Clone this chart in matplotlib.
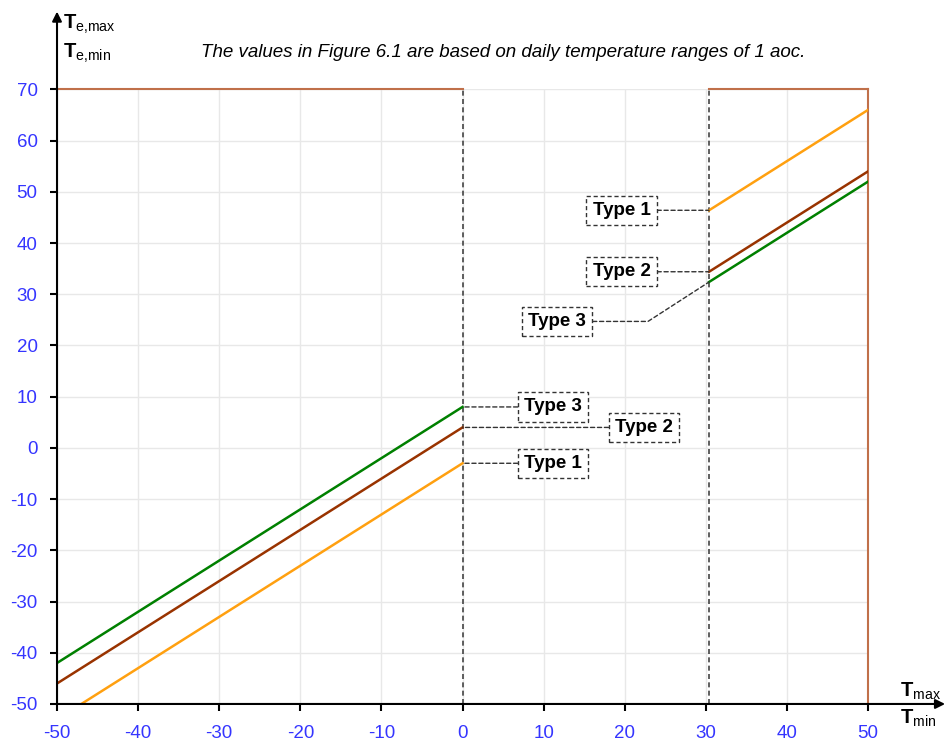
import numpy as np
import matplotlib.pyplot as plt

plt.rcParams['font.family'] = ['Liberation Sans', 'DejaVu Sans']
plt.rcParams['axes.unicode_minus'] = False
plt.rcParams['mathtext.fontset'] = 'custom'
plt.rcParams['mathtext.rm'] = 'Liberation Sans'
plt.rcParams['mathtext.bf'] = 'Liberation Sans:bold'

# left part: T_min side, right part: T_max side
x_left = [-50, 0]
type1_left = [-53, -3]
type2_left = [-46, 4]
type3_left = [-42, 8]

x_right = [30.4, 50]
type1_right = [46.4, 66]
type2_right = [34.4, 54]
type3_right = [32.4, 52]

xticks = np.arange(-50, 51, 10)
yticks = np.arange(-50, 71, 10)

c1 = '#ffa010'
c2 = '#993300'
c3 = '#008000'
cbox = '#c0704a'
blue = '#3535ff'

fig = plt.figure(figsize=(9.47, 7.44), dpi=100, facecolor='w')
ax = fig.add_axes([0.0602, 0.0538, 0.8564, 0.826])
ax.set_xlim(-50, 50)
ax.set_ylim(-50, 70)

for s in ax.spines.values():
    s.set_visible(False)

ax.set_xticks(xticks)
ax.set_yticks(yticks)
ax.tick_params(colors='k', labelcolor=blue, labelsize=13.5, length=5, width=1.5)
ax.tick_params(axis='x', pad=10)
ax.tick_params(axis='y', pad=9)
ax.grid(color='#e8e8e8', lw=1)
ax.set_axisbelow(True)

# frames
ax.plot([-50, 0], [70, 70], c=cbox, lw=1.5, clip_on=False)
ax.plot([x_right[0], 50], [70, 70], c=cbox, lw=1.5, clip_on=False)
ax.plot([50, 50], [-50, 70], c=cbox, lw=1.5, clip_on=False)
ax.plot([0, 0], [-50, 70], c='#444444', lw=1.2, ls=(0, (3, 2)))
ax.plot([x_right[0]] * 2, [-50, 70], c='#444444', lw=1.2, ls=(0, (3, 2)))

ax.plot(x_left, type1_left, c=c1, lw=1.8)
ax.plot(x_left, type2_left, c=c2, lw=1.8)
ax.plot(x_left, type3_left, c=c3, lw=1.8)
ax.plot(x_right, type1_right, c=c1, lw=1.8)
ax.plot(x_right, type2_right, c=c2, lw=1.8)
ax.plot(x_right, type3_right, c=c3, lw=1.8)

box = dict(boxstyle='square,pad=0.33', fc='w', ec='#333333', ls=(0, (3, 2)), lw=1)
arr = dict(arrowstyle='-', ls=(0, (3, 2)), color='#333333', lw=1, shrinkA=0, shrinkB=0)


def callout(txt, pt, pos, conn=None):
    a = dict(arr)
    if conn:
        a['connectionstyle'] = conn
    ax.annotate(txt, xy=pt, xytext=pos, ha='center', va='center',
                fontsize=13.5, fontweight='bold', bbox=box, arrowprops=a)


callout('Type 3', (0, type3_left[1]), (11.2, type3_left[1]))
callout('Type 2', (0, type2_left[1]), (22.4, type2_left[1]))
callout('Type 1', (0, type1_left[1]), (11.2, type1_left[1]))
callout('Type 1', (x_right[0], type1_right[0]), (19.6, type1_right[0]))
callout('Type 2', (x_right[0], type2_right[0]), (19.6, type2_right[0]))
callout('Type 3', (x_right[0], type3_right[0]), (11.65, 24.7),
        'arc,angleA=0,armA=91,angleB=0,armB=0,rad=0')

# axis arrows
ax.annotate('', xy=(-50, 85.2), xytext=(-50, -50),
            arrowprops=dict(arrowstyle='-|>', color='k', lw=1.5, mutation_scale=14,
                            shrinkA=0, shrinkB=0), annotation_clip=False)
ax.annotate('', xy=(59.5, -50), xytext=(-50, -50),
            arrowprops=dict(arrowstyle='-|>', color='k', lw=1.5, mutation_scale=14,
                            shrinkA=0, shrinkB=0), annotation_clip=False)

fig.text(0.066, 0.967, r'$\mathbf{T}_{\mathrm{e{,}max}}$', fontsize=14.5, va='center')
fig.text(0.066, 0.928, r'$\mathbf{T}_{\mathrm{e{,}min}}$', fontsize=14.5, va='center')
fig.text(0.950, 0.071, r'$\mathbf{T}_{\mathrm{max}}$', fontsize=14.5, va='center')
fig.text(0.950, 0.034, r'$\mathbf{T}_{\mathrm{min}}$', fontsize=14.5, va='center')

fig.text(0.531, 0.930, 'The values in Figure 6.1 are based on daily temperature ranges of 1 aoc.',
         fontsize=13.5, style='italic', ha='center', va='center')

plt.savefig('out.png', dpi=100)
